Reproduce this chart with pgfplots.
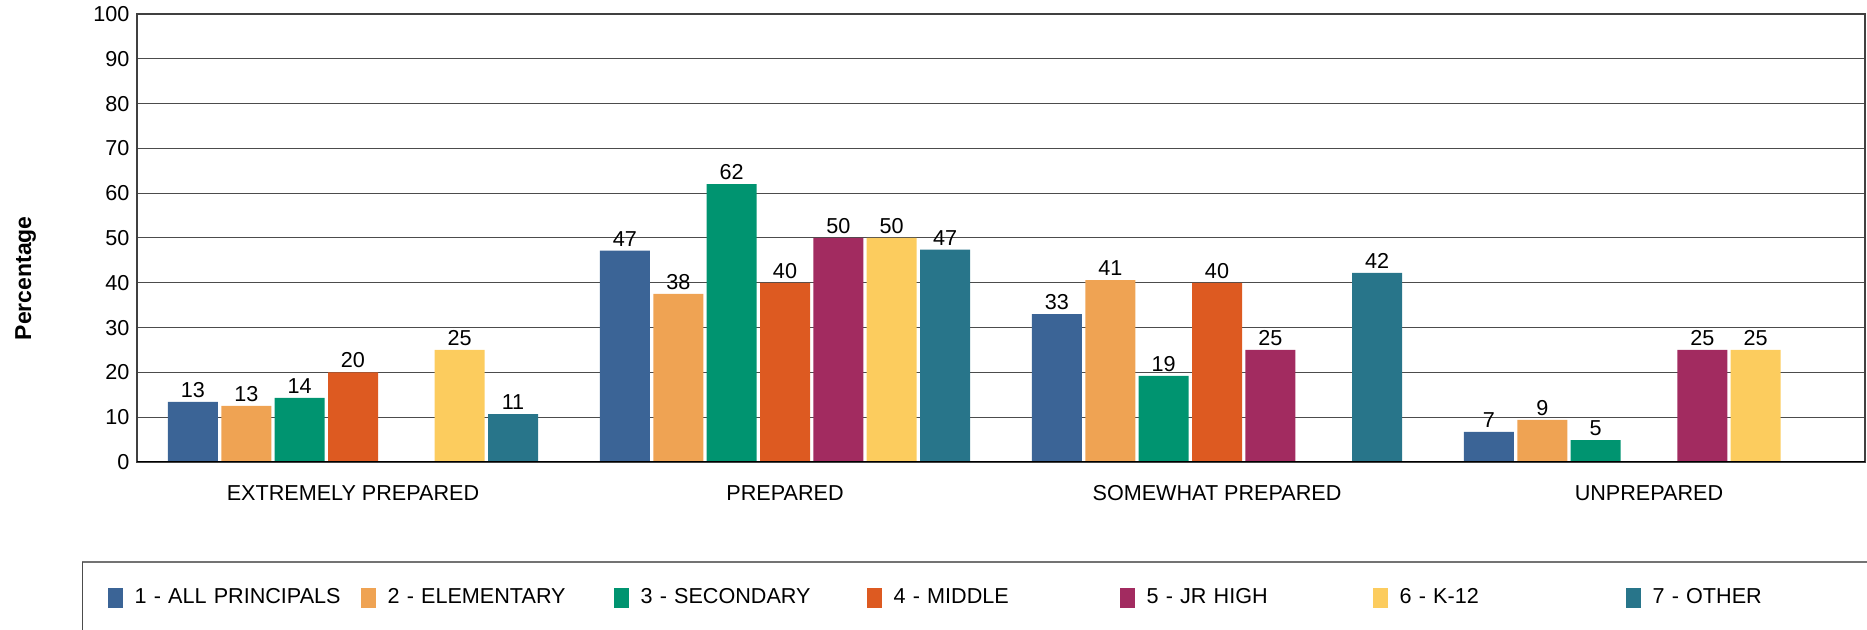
\documentclass[border=0pt]{standalone}
\usepackage{fontspec}
\setmainfont{Liberation Sans}
\usepackage{pgfplots}
\pgfplotsset{compat=1.18}
\definecolor{c1}{HTML}{3B6496}
\definecolor{c2}{HTML}{EFA353}
\definecolor{c3}{HTML}{009470}
\definecolor{c4}{HTML}{DD5A21}
\definecolor{c5}{HTML}{A22B60}
\definecolor{c6}{HTML}{FCCC5E}
\definecolor{c7}{HTML}{28758A}
\begin{document}
\fontsize{10.8}{13}\selectfont
\begin{tikzpicture}
\useasboundingbox (0,0) rectangle (933.5pt,315pt);
\begin{axis}[
  at={(68.5pt,84pt)}, anchor=south west,
  width=864pt, height=224pt, scale only axis,
  ymin=0, ymax=100, ytick={0,10,...,100},
  xmin=-0.5, xmax=3.5, xtick={0,1,2,3},
  xticklabels={EXTREMELY PREPARED, PREPARED, SOMEWHAT PREPARED, UNPREPARED},
  ybar=1.67pt, bar width=25pt,
  ymajorgrids, major grid style={black!70, line width=0.5pt},
  major tick length=0pt,
  axis line style={black!75, line width=0.6pt},
  tick label style={font=\fontsize{10.8}{13}\selectfont, /pgf/number format/assume math mode=true},
  xticklabel style={yshift=-8pt},
  ylabel={\textbf{Percentage}},
  ylabel style={at={(axis description cs:-0.0645,0.41)}, anchor=center, font=\fontsize{11.5}{13}\selectfont},
  nodes near coords, point meta=explicit symbolic,
  every node near coord/.append style={font=\fontsize{10.8}{13}\selectfont, black, inner sep=2pt},
  legend columns=7,
  legend style={at={(axis description cs:-0.0168,-0.3025)}, anchor=west, draw=none, fill=none,
    inner sep=0pt, outer sep=0pt,
    nodes={text width=111.2pt, inner xsep=2pt, anchor=west, font=\fontsize{10.8}{13}\selectfont},
    /tikz/every odd column/.append style={column sep=3.8pt}},
  legend cell align=left,
  legend image code/.code={\fill (0pt,-5pt) rectangle (7.5pt,5pt);},
]
\addplot[fill=c1, draw=none] coordinates {(0,13.4)[13] (1,47.2)[47] (2,33.0)[33] (3,6.7)[7]};
\addplot[fill=c2, draw=none] coordinates {(0,12.5)[13] (1,37.5)[38] (2,40.6)[41] (3,9.4)[9]};
\addplot[fill=c3, draw=none] coordinates {(0,14.3)[14] (1,62.0)[62] (2,19.2)[19] (3,4.9)[5]};
\addplot[fill=c4, draw=none] coordinates {(0,20.0)[20] (1,40.0)[40] (2,40.0)[40]};
\addplot[fill=c5, draw=none] coordinates {(1,50.0)[50] (2,25.0)[25] (3,25.0)[25]};
\addplot[fill=c6, draw=none] coordinates {(0,25.0)[25] (1,50.0)[50] (3,25.0)[25]};
\addplot[fill=c7, draw=none] coordinates {(0,10.7)[11] (1,47.4)[47] (2,42.2)[42]};
\draw[black, line width=1.2pt] (axis cs:-0.5,0) -- (axis cs:3.5,0);
\legend{1 - ALL PRINCIPALS, 2 - ELEMENTARY, 3 - SECONDARY, 4 - MIDDLE, 5 - JR HIGH, 6 - K-12, 7 - OTHER}
\end{axis}
\draw[black!55, line width=1pt] (41pt,34pt) -- (940pt,34pt);
\draw[black!70, line width=0.5pt] (41pt,-2pt) -- (41pt,34pt);
\end{tikzpicture}
\end{document}
